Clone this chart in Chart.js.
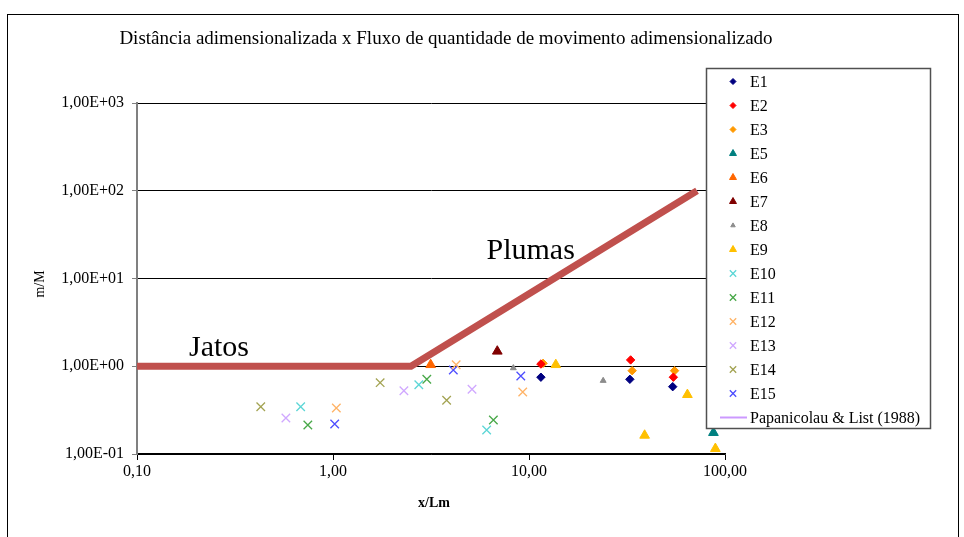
<!DOCTYPE html>
<html>
<head>
<meta charset="utf-8">
<script src="https://cdn.jsdelivr.net/npm/chart.js@4.4.1/dist/chart.umd.min.js"></script>
<style>
  html, body { margin: 0; padding: 0; background: #fff; }
  #wrap { position: relative; width: 964px; height: 537px; }
  canvas { display: block; }
</style>
</head>
<body>
<div id="wrap"><canvas id="c" width="964" height="537"></canvas></div>
<script>
// Dimensionless distance (x/Lm) vs dimensionless momentum flux (m/M)
const chartTitle = 'Distância adimensionalizada x Fluxo de quantidade de movimento adimensionalizado';
const xAxisTitle = 'x/Lm';
const yAxisTitle = 'm/M';

const xTickValues = [0.1, 1, 10, 100];
const xTickLabels = ['0,10', '1,00', '10,00', '100,00'];
const yTickValues = [0.1, 1, 10, 100, 1000];
const yTickLabels = ['1,00E-01', '1,00E+00', '1,00E+01', '1,00E+02', '1,00E+03'];

// Experiments (x/Lm, m/M)
const e1X = [11.5, 32.7, 54.1];        const e1Y = [0.75, 0.71, 0.585];
const e2X = [11.5, 33.0, 54.5];        const e2Y = [1.06, 1.18, 0.75];
const e3X = [11.8, 33.6, 55.3];        const e3Y = [1.08, 0.89, 0.89];
const e5X = [87.3];                    const e5Y = [0.175];
const e6X = [3.15];                    const e6Y = [1.04];
const e7X = [6.89];                    const e7Y = [1.48];
const e8X = [8.32, 23.9];              const e8Y = [0.955, 0.685];
const e9X = [13.7, 38.9, 64.3, 89.3];  const e9Y = [1.04, 0.163, 0.474, 0.115];
const e10X = [0.684, 2.74, 6.08];      const e10Y = [0.346, 0.616, 0.188];
const e11X = [0.744, 3.01, 6.58];      const e11Y = [0.214, 0.71, 0.244];
const e12X = [1.04, 4.25, 9.29];       const e12Y = [0.334, 1.04, 0.509];
const e13X = [0.575, 2.30, 5.12];      const e13Y = [0.257, 0.526, 0.546];
const e14X = [0.428, 1.74, 3.80];      const e14Y = [0.346, 0.65, 0.41];
const e15X = [1.02, 4.11, 9.08];       const e15Y = [0.22, 0.906, 0.774];

// Papanicolau & List (1988): jet regime (constant) then plume regime
const papX = [0.1, 2.5, 72];
const papY = [1, 1, 100];

// Region labels (x/Lm, m/M at text baseline)
const regionLabels = ['Jatos', 'Plumas'];
const regionX = [0.262, 10.2];
const regionY = [1.31, 16.7];

const pts = (xs, ys) => xs.map((x, i) => ({ x: x, y: ys[i] }));
const SERIF = '"Liberation Serif", "Times New Roman", serif';

function marker(label, xs, ys, style, color, radius, legendRadius) {
  const cross = style === 'crossRot';
  return {
    label: label,
    data: pts(xs, ys),
    pointStyle: style,
    pointRadius: radius,
    pointHoverRadius: radius,
    backgroundColor: color,
    borderColor: color,
    pointBorderWidth: cross ? 1.3 : 1,
    showLine: false,
    order: 0,
    legendRadius: legendRadius
  };
}

const datasets = [
  marker('E1', e1X, e1Y, 'rectRot', '#000080', 4.2, 3),
  marker('E2', e2X, e2Y, 'rectRot', '#FF0000', 4.2, 3),
  marker('E3', e3X, e3Y, 'rectRot', '#FF9900', 4.2, 3),
  marker('E5', e5X, e5Y, 'triangle', '#008080', 5.6, 4),
  marker('E6', e6X, e6Y, 'triangle', '#FF6600', 5.6, 4),
  marker('E7', e7X, e7Y, 'triangle', '#800000', 5.6, 4),
  marker('E8', e8X, e8Y, 'triangle', '#8C8C8C', 3.4, 2.6),
  marker('E9', e9X, e9Y, 'triangle', '#FFC000', 5.6, 4),
  marker('E10', e10X, e10Y, 'crossRot', '#5CD6D6', 6, 4.5),
  marker('E11', e11X, e11Y, 'crossRot', '#48A848', 6, 4.5),
  marker('E12', e12X, e12Y, 'crossRot', '#FFB366', 6, 4.5),
  marker('E13', e13X, e13Y, 'crossRot', '#D0A8FF', 6, 4.5),
  marker('E14', e14X, e14Y, 'crossRot', '#A3A352', 6, 4.5),
  marker('E15', e15X, e15Y, 'crossRot', '#4D4DFF', 6, 4.5),
  {
    label: 'Papanicolau & List (1988)',
    data: pts(papX, papY),
    showLine: true,
    borderColor: '#CC99FF',
    borderWidth: 1.5,
    pointRadius: 0,
    fill: false,
    order: 2,
    isLine: true
  },
  {
    label: '',
    data: pts(papX, papY),
    showLine: true,
    borderColor: '#C0504D',
    borderWidth: 7,
    borderJoinStyle: 'miter',
    pointRadius: 0,
    fill: false,
    order: 1,
    skipLegend: true
  }
];

// Frame, title, axis titles and region labels
const textPlugin = {
  id: 'texts',
  beforeDraw(chart) {
    const ctx = chart.ctx;
    ctx.save();
    ctx.fillStyle = '#fff';
    ctx.fillRect(0, 0, chart.width, chart.height);
    ctx.strokeStyle = '#000';
    ctx.lineWidth = 1;
    ctx.strokeRect(7.5, 14.5, 951, 600);
    ctx.restore();
  },
  afterDraw(chart) {
    const ctx = chart.ctx;
    const xs = chart.scales.x, ys = chart.scales.y;
    ctx.save();
    ctx.fillStyle = '#000';
    ctx.textAlign = 'center';
    ctx.textBaseline = 'alphabetic';
    ctx.font = '19px ' + SERIF;
    ctx.fillText(chartTitle, 446, 44);

    ctx.font = 'bold 14px ' + SERIF;
    ctx.textBaseline = 'middle';
    ctx.fillText(xAxisTitle, 434, 503);

    ctx.save();
    ctx.translate(40, 284);
    ctx.rotate(-Math.PI / 2);
    ctx.font = '14px ' + SERIF;
    ctx.fillText(yAxisTitle, 0, 0);
    ctx.restore();

    ctx.font = '30px ' + SERIF;
    ctx.textBaseline = 'alphabetic';
    regionLabels.forEach((t, i) => {
      ctx.fillText(t, xs.getPixelForValue(regionX[i]), ys.getPixelForValue(regionY[i]));
    });
    ctx.restore();
  }
};

// Boxed legend laid over the right side of the plot
const legendPlugin = {
  id: 'boxLegend',
  afterDraw(chart) {
    const ctx = chart.ctx;
    const left = 706.5, top = 68.5, right = 930.5, bottom = 428.5;
    ctx.save();
    ctx.fillStyle = '#fff';
    ctx.fillRect(left, top, right - left, bottom - top);
    ctx.strokeStyle = '#505050';
    ctx.lineWidth = 1.5;
    ctx.strokeRect(left, top, right - left, bottom - top);

    const entries = chart.data.datasets.filter(d => !d.skipLegend);
    const symX = 733, textX = 750, y0 = 81.5, step = 24.0;
    ctx.font = '16px ' + SERIF;
    ctx.textBaseline = 'middle';
    ctx.textAlign = 'left';
    entries.forEach((d, i) => {
      const y = y0 + i * step;
      if (d.isLine) {
        ctx.strokeStyle = d.borderColor;
        ctx.lineWidth = 2;
        ctx.beginPath();
        ctx.moveTo(720, y);
        ctx.lineTo(747, y);
        ctx.stroke();
      } else {
        ctx.fillStyle = d.backgroundColor;
        ctx.strokeStyle = d.borderColor;
        ctx.lineWidth = d.pointBorderWidth;
        Chart.helpers.drawPoint(ctx, {
          pointStyle: d.pointStyle,
          radius: d.legendRadius,
          rotation: 0,
          borderWidth: d.pointBorderWidth
        }, symX, y);
      }
      ctx.fillStyle = '#000';
      ctx.fillText(d.label, textX, y + 1);
    });
    ctx.restore();
  }
};

new Chart(document.getElementById('c'), {
  type: 'scatter',
  data: { datasets: datasets },
  options: {
    responsive: false,
    devicePixelRatio: 1,
    animation: false,
    events: [],
    layout: { padding: { left: 0, top: 103, right: 239, bottom: 0 } },
    plugins: {
      legend: { display: false },
      title: { display: false },
      tooltip: { enabled: false }
    },
    scales: {
      x: {
        type: 'logarithmic',
        position: 'bottom',
        min: 0.1,
        max: 100,
        afterBuildTicks: s => { s.ticks = xTickValues.map(v => ({ value: v })); },
        afterFit: s => { s.height = 83; },
        ticks: {
          autoSkip: false,
          maxRotation: 0,
          minRotation: 0,
          padding: 2,
          color: '#000',
          font: { family: SERIF, size: 16 },
          callback: (v, i) => xTickLabels[i]
        },
        grid: { drawOnChartArea: false, drawTicks: true, tickLength: 6, tickColor: '#000', lineWidth: 1 },
        border: { color: '#000', width: 1.5 }
      },
      y: {
        type: 'logarithmic',
        position: 'left',
        min: 0.1,
        max: 1000,
        afterBuildTicks: s => { s.ticks = yTickValues.map(v => ({ value: v })); },
        afterFit: s => { s.width = 137; },
        ticks: {
          autoSkip: false,
          padding: 8,
          color: '#000',
          font: { family: SERIF, size: 16 },
          callback: (v, i) => yTickLabels[i]
        },
        grid: { color: '#000', lineWidth: 1, drawTicks: true, tickLength: 5, tickColor: '#808080' },
        border: { color: '#808080', width: 2 }
      }
    }
  },
  plugins: [textPlugin, legendPlugin]
});
</script>
</body>
</html>
